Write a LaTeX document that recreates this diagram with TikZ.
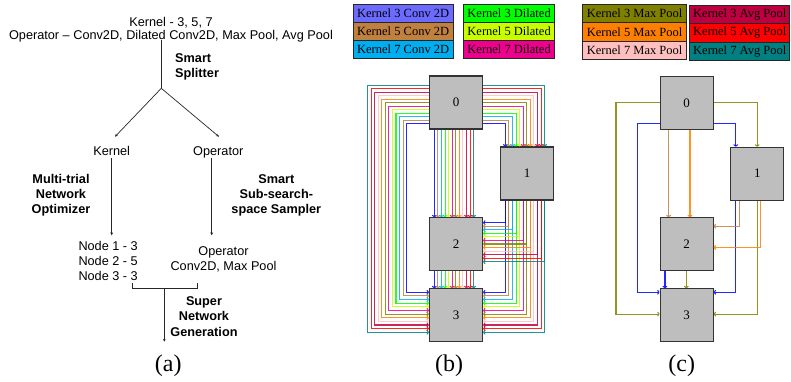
\documentclass[tikz,border=0pt]{standalone}
\usepackage{fontspec}
\setmainfont{Liberation Serif}
\setsansfont{Liberation Sans}
\usetikzlibrary{arrows.meta,calc}
\definecolor{k0}{HTML}{0000FF}
\definecolor{k1}{HTML}{BF8040}
\definecolor{k2}{HTML}{00AEEF}
\definecolor{k3}{HTML}{00FF00}
\definecolor{k4}{HTML}{C8FF00}
\definecolor{k5}{HTML}{EC008C}
\definecolor{k6}{HTML}{808000}
\definecolor{k7}{HTML}{FF8000}
\definecolor{k8}{HTML}{FFBFBF}
\definecolor{k9}{HTML}{BF0040}
\definecolor{k10}{HTML}{FF0000}
\definecolor{k11}{HTML}{008080}
\definecolor{legA}{HTML}{6B6BFF}
\definecolor{boxgray}{HTML}{BEBEBE}
\begin{document}
\begin{tikzpicture}[x=1pt,y=-1pt,
  sf/.style={font=\sffamily\fontsize{12.7}{15.3}\selectfont},
  sfb/.style={font=\sffamily\bfseries\fontsize{12.7}{15.3}\selectfont},
  txt/.style={inner sep=0pt, anchor=base},
  arr/.style={line width=0.7pt, draw=black!85, -{Stealth[length=3pt,width=2.8pt]}},
  pl/.style={line width=0.7pt, draw=black!85},
  cell/.style={draw=black!80, line width=1.1pt, fill=boxgray, minimum width=53pt, minimum height=53pt, inner sep=0pt, font=\fontsize{13}{13}\selectfont},
  leg/.style={draw=black!85, line width=0.9pt, inner sep=0pt, anchor=north west, font=\fontsize{12.5}{12.5}\selectfont},
  edge/.style={line width=1.1pt, draw=#1, draw opacity=0.85, -{To[length=2.4pt,width=4.8pt]}},
  captxt/.style={font=\fontsize{24}{24}\selectfont, inner sep=0pt, anchor=base}
]
\useasboundingbox (0,0) rectangle (791,381);

% ---------------- panel (a)  (multi-line nodes: base = last line)
\node[txt, align=center, font=\sffamily\fontsize{12.7}{12.5}\selectfont] (top) at (171,39)
  {Kernel - 3, 5, 7\\Operator – Conv2D, Dilated Conv2D, Max Pool, Avg Pool};
\coordinate (split) at (161.3,88.3);
\node[txt, sfb, anchor=base west, align=left] (splitter) at (175,77.3) {Smart\\Splitter};
\node[txt, sf] (kern) at (111.7,155) {Kernel};
\node[txt, sf] (oper) at (218.3,155) {Operator};
\node[txt, sfb, align=center] (mto) at (61,213.9) {Multi-trial\\Network\\Optimizer};
\node[txt, sfb, align=center] (sss) at (276.3,213.9) {Smart\\Sub-search-\\space Sampler};
\node[txt, sf, anchor=base west, align=left] (nodes) at (78.3,280.6) {Node 1 - 3\\Node 2 - 5\\Node 3 - 3};
\node[txt, sf, align=center] (op2) at (223.5,270.5) {Operator\\Conv2D, Max Pool};
\node[txt, sfb, align=center] (gen) at (204,336) {Super\\Network\\Generation};
\coordinate (bm) at (164.3,288.3);

\draw[pl] ($(top.base)+(-9.7,0.5)$) -- (split);
\draw[arr] (split) -- ($(kern.base)+(3.3,-18.3)$);
\draw[arr] (split) -- ($(oper.base)+(0.7,-18.3)$);
\draw[arr] ($(kern.base)+(0,3)$) -- ($(nodes.base west)+(33.4,-45.3)$);
\draw[arr] ($(oper.base)+(-6.6,3)$) -- ($(op2.base)+(-11.8,-35.2)$);
\draw[pl] ($(bm)+(-31.6,-5)$) |- ($(bm)+(33.4,0)$) -- ++(0,-5);
\draw[arr] (bm) -- ($(bm)+(0,53.4)$);

\node[captxt] (capa) at (168.3,371.7) {(a)};

% ---------------- panel (b)
\node[leg, fill=legA, minimum width=100pt, minimum height=17.8pt] (lb0) at (352.7,4.3) {Kernel 3 Conv 2D};
\node[leg, fill=k1, minimum width=100pt, minimum height=17.8pt] (lb1) at (352.7,22.1) {Kernel 5 Conv 2D};
\node[leg, fill=k2, minimum width=100pt, minimum height=17.8pt] (lb2) at (352.7,39.9) {Kernel 7 Conv 2D};
\node[leg, fill=k3, minimum width=90.7pt, minimum height=17.8pt] (lb3) at (463.3,4.3) {Kernel 3 Dilated};
\node[leg, fill=k4, minimum width=90.7pt, minimum height=17.8pt] (lb4) at (463.3,22.1) {Kernel 5 Dilated};
\node[leg, fill=k5, minimum width=90.7pt, minimum height=17.8pt] (lb5) at (463.3,39.9) {Kernel 7 Dilated};

\node[cell] (b0) at (456,102.5) {0};
\node[cell] (b1) at (527,173.5) {1};
\node[cell] (b2) at (456,244.3) {2};
\node[cell] (b3) at (456,315.3) {3};

\foreach \i in {0,...,11}{
  \pgfmathsetmacro\o{5.4+3.57*\i}
  \pgfmathsetmacro\e{6+3.5*\i}
  \pgfmathsetmacro\L{22.3+3.55*\i}
  \pgfmathsetmacro\f{4+3.64*\i}
  \pgfmathsetmacro\g{5.4+3.55*\i}
  \draw[edge=k\i] ($(b0.south east)+(0,-\e)$) -| ($(b1.north west)+(\o,0)$);
  \draw[edge=k\i] ($(b0.south west)+(0,-\e)$) -- ++(-\L,0) |- ($(b3.north west)+(0,\f)$);
  \draw[edge=k\i] ($(b0.south west)+(\o,0)$) -- ($(b2.north west)+(\o,0)$);
  \draw[edge=k\i] ($(b2.south west)+(\o,0)$) -- ($(b3.north west)+(\o,0)$);
  \draw[edge=k\i] ($(b1.south west)+(\o,0)$) |- ($(b2.north east)+(0,\g)$);
  \draw[edge=k\i] ($(b1.south west)+(\o,0)$) |- ($(b3.north east)+(0,\f)$);
}
\node[captxt] (capb) at (449,371.7) {(b)};

% ---------------- panel (c)
\node[leg, fill=k6, minimum width=103.7pt, minimum height=18.3pt] (lc0) at (582.3,4) {Kernel 3 Max Pool};
\node[leg, fill=k7, minimum width=103.7pt, minimum height=18.3pt] (lc1) at (582.3,22.3) {Kernel 5 Max Pool};
\node[leg, fill=k8, minimum width=103.7pt, minimum height=18.3pt] (lc2) at (582.3,40.6) {Kernel 7 Max Pool};
\node[leg, fill=k9, minimum width=100pt, minimum height=18.4pt] (lc3) at (689.3,4.7) {Kernel 3 Avg Pool};
\node[leg, fill=k10, minimum width=100pt, minimum height=18.4pt] (lc4) at (689.3,23.1) {Kernel 5 Avg Pool};
\node[leg, fill=k11, minimum width=100pt, minimum height=18.4pt] (lc5) at (689.3,41.5) {Kernel 7 Avg Pool};

\node[cell] (c0) at (686.6,102.8) {0};
\node[cell] (c1) at (757.4,173.7) {1};
\node[cell] (c2) at (686.6,244.3) {2};
\node[cell] (c3) at (686.6,315.3) {3};

\foreach \i in {0,6}{
  \pgfmathsetmacro\o{5.4+3.57*\i}
  \pgfmathsetmacro\e{6+3.5*\i}
  \pgfmathsetmacro\L{22.3+3.55*\i}
  \pgfmathsetmacro\f{4+3.64*\i}
  \draw[edge=k\i] ($(c0.south east)+(0,-\e)$) -| ($(c1.north west)+(\o,0)$);
  \draw[edge=k\i] ($(c0.south west)+(0,-\e)$) -- ++(-\L,0) |- ($(c3.north west)+(0,\f)$);
  \draw[edge=k\i] ($(c2.south west)+(\o,0)$) -- ($(c3.north west)+(\o,0)$);
  \draw[edge=k\i] ($(c1.south west)+(\o,0)$) |- ($(c3.north east)+(0,\f)$);
}
\foreach \i in {1,7}{
  \pgfmathsetmacro\o{5.4+3.57*\i}
  \pgfmathsetmacro\g{5.4+3.55*\i}
  \draw[edge=k\i] ($(c0.south west)+(\o,0)$) -- ($(c2.north west)+(\o,0)$);
  \draw[edge=k\i] ($(c1.south west)+(\o,0)$) |- ($(c2.north east)+(0,\g)$);
}
\node[captxt] (capc) at (681.7,371.7) {(c)};
\end{tikzpicture}
\end{document}
